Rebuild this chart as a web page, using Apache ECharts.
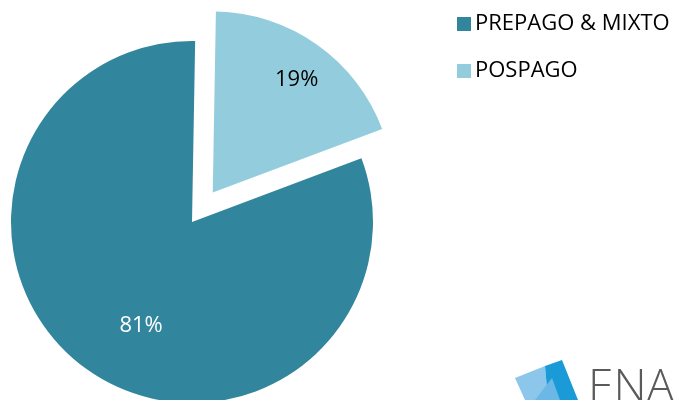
<!DOCTYPE html>
<html><head><meta charset="utf-8">
<script src="https://cdn.jsdelivr.net/npm/echarts@6/dist/echarts.min.js"></script>
<style>html,body{margin:0;padding:0;background:#fff}#c{width:690px;height:400px}</style>
</head><body><div id="c"></div>
<script>
const categories = ['POSPAGO', 'PREPAGO & MIXTO'];
const values = [19, 81];
const colors = ['#93CDDD', '#31859C'];
const legendOrder = ['PREPAGO & MIXTO', 'POSPAGO'];
const FONT = 'Open Sans';

const chart = echarts.init(document.getElementById('c'));
chart.setOption({
  animation: false,
  legend: {
    orient: 'vertical', left: 452, top: 8,
    data: legendOrder, itemWidth: 14, itemHeight: 14, itemGap: 25,
    icon: 'rect',
    textStyle: { fontFamily: FONT, fontSize: 22, color: '#000', padding: [0,0,0,-1] }
  },
  series: [{
    type: 'pie', center: [192, 222], radius: 181, startAngle: 89, clockwise: true,
    selectedMode: 'multiple', selectedOffset: 36,
    emphasis: { disabled: true }, silent: true,
    labelLine: { show: false },
    data: categories.map((n, i) => ({
      name: n, value: values[i], selected: i === 0,
      itemStyle: { color: colors[i] },
      label: {
        show: true, position: 'inside',
        formatter: i === 0 ? '{c}%\n\n\n' : '\n\n{c}%',
        lineHeight: i === 0 ? 24 : 27,
        fontFamily: FONT, fontSize: 22,
        color: i === 0 ? '#000' : '#fff',
        padding: i === 0 ? [0, 0, 0, 60] : [0, 0, 0, 6]
      }
    }))
  }],
  graphic: [
    { type: 'polygon', shape: { points: [[515,378],[545,366],[548,400],[525,400]] }, style: { fill: '#8CC6EA' } },
    { type: 'polygon', shape: { points: [[545,366],[562,360],[578,400],[548,400]] }, style: { fill: '#1A9BD7' } },
    { type: 'polygon', shape: { points: [[535,400],[552,378],[560,400]] }, style: { fill: '#6BB8E6' } },
    { type: 'text', left: 588, top: 366, style: { text: 'ENA', fontFamily: FONT, fontSize: 46, fontWeight: 300, fill: '#5a5a5a' } }
  ]
});
</script></body></html>
